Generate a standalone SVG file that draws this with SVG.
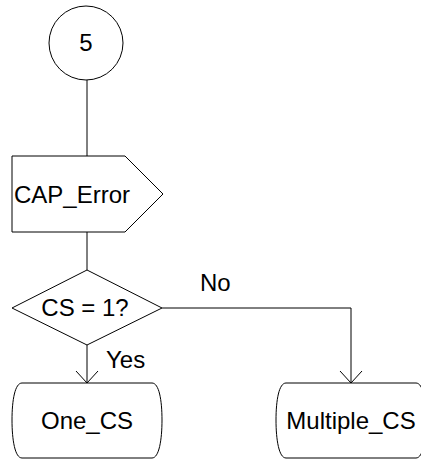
<svg xmlns="http://www.w3.org/2000/svg" width="421" height="462" viewBox="0 0 421 462">
<defs>
<style>
.s{fill:#fff;stroke:#000;stroke-width:1}
.c{fill:none;stroke:#000;stroke-width:1}
.t{font-family:"Liberation Sans",Arial,sans-serif;font-size:24px;fill:#000}
</style>
<marker id="ah" markerUnits="userSpaceOnUse" markerWidth="30" markerHeight="30" viewBox="-15 -15 30 30" refX="0" refY="0" orient="auto">
<path d="M -12,-11 L 0,0 L -12,11" fill="none" stroke="#000" stroke-width="1"/>
</marker>
</defs>
<rect width="421" height="462" fill="#fff"/>
<g id="connectors">
<path class="c" d="M 87,80 V 156"/>
<path class="c" d="M 87,232 V 270"/>
<path class="c" d="M 87,345 V 383" marker-end="url(#ah)"/>
<path class="c" d="M 162,308 H 351 V 383" marker-end="url(#ah)"/>
<text class="t" x="106" y="368">Yes</text>
<text class="t" x="200" y="291">No</text>
</g>
<g id="connector5">
<circle class="s" cx="86" cy="43" r="37"/>
<text class="t" x="86" y="51" text-anchor="middle">5</text>
</g>
<g id="cap_error">
<path class="s" d="M 12,156 H 125 L 163,194 L 125,232 H 12 Z"/>
<text class="t" x="14" y="203">CAP_Error</text>
</g>
<g id="decision">
<path class="s" d="M 12,308 L 87,270 L 162,308 L 87,345 Z"/>
<text class="t" x="85" y="316" text-anchor="middle">CS = 1?</text>
</g>
<g id="one_cs">
<path class="s" d="M 22,383 H 152 C 159,383 162,400 162,420 C 162,440 159,458 152,458 H 22 C 15,458 12,440 12,420 C 12,400 15,383 22,383 Z"/>
<text class="t" x="87" y="429" text-anchor="middle">One_CS</text>
</g>
<g id="multiple_cs">
<path class="s" d="M 286,383 H 416 C 423,383 426,400 426,420 C 426,440 423,458 416,458 H 286 C 279,458 276,440 276,420 C 276,400 279,383 286,383 Z"/>
<text class="t" x="351" y="429" text-anchor="middle">Multiple_CS</text>
</g>
</svg>
